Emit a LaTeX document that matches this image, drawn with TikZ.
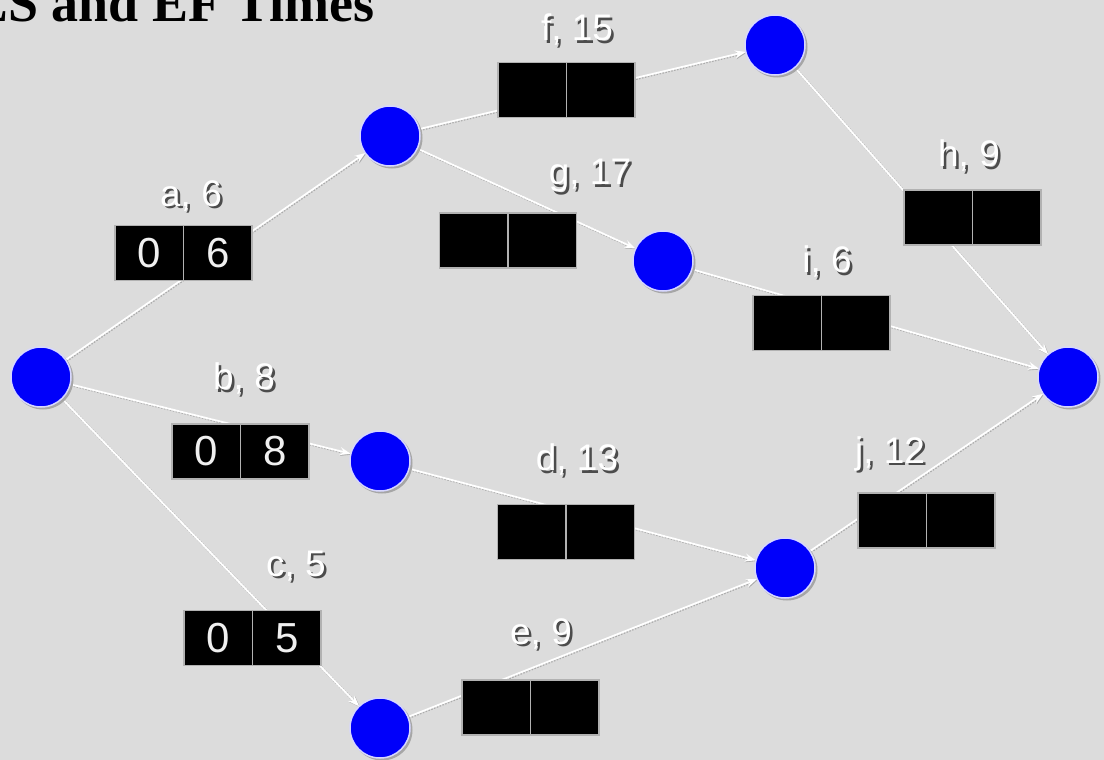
\documentclass[tikz,border=0pt]{standalone}
\usepackage{fontspec}
\setmainfont{Liberation Serif}
\newfontfamily\arial{Liberation Sans}
\usetikzlibrary{arrows.meta}
\definecolor{bg}{RGB}{220,220,220}
\definecolor{nodeblue}{RGB}{0,0,250}
\definecolor{rim}{RGB}{215,215,255}
\tikzset{
  ev/.style={circle,fill=nodeblue,draw=rim,line width=1.5bp,minimum size=60bp,inner sep=0pt,outer sep=0pt},
  evshadow/.style={circle,fill=gray!70,minimum size=61bp,inner sep=0pt},
  edge/.style={draw=white,line width=1.8bp,-{Stealth[length=11bp,width=8bp]},
    preaction={draw=gray!65,line width=2.4bp,dash pattern=on 1.5bp off 1.5bp,transform canvas={shift={(0.8bp,-0.8bp)}}}},
  cell/.style={rectangle,fill=black,draw=gray!60,line width=1.4bp,minimum width=68.5bp,minimum height=55bp,inner sep=0pt,
    font=\arial\fontsize{42bp}{44bp}\selectfont,text=gray!12},
  lbl/.style={font=\arial\fontsize{37bp}{40bp}\selectfont,text=white,inner sep=0pt},
}
\newcommand{\shadowtext}[1]{\rlap{\hspace{2.5bp}\raisebox{-2.5bp}{\color{gray!60!black}#1}}#1}
\newcommand{\actbox}[8]{%
  \node[cell] (#1L) at ({#2-34.25},#3) {#4};
  \node[cell] (#1R) at ({#2+34.25},#3) {#5};
  \node[lbl] (#1lbl) at (#7,#8) {\shadowtext{#6}};
}
\begin{document}
\begin{tikzpicture}[x=1bp,y=-1bp]
\fill[bg] (0,0) rectangle (1104,760);
\useasboundingbox (0,0) rectangle (1104,760);
% title
\node[anchor=base east,inner sep=0pt,font=\bfseries\fontsize{54bp}{56bp}\selectfont] (title) at (375,22) {ES and EF Times};
% event nodes
\coordinate (sC) at (41,377);
\coordinate (n1C) at (390,136);
\coordinate (n2C) at (380,461);
\coordinate (n3C) at (380,728);
\coordinate (n4C) at (775,45);
\coordinate (n5C) at (663,261);
\coordinate (n6C) at (785,568);
\coordinate (tC) at (1068,377);
\foreach \n in {s,n1,n2,n3,n4,n5,n6,t}{
  \node[ev,draw=none,fill=none] (\n) at (\n C) {};
}
% edges
\draw[edge] (s) -- (n1);
\draw[edge] (s) -- (n2);
\draw[edge] (s) -- (n3);
\draw[edge] (n1) -- (n4);
\draw[edge] (n1) -- (n5);
\draw[edge] (n4) -- (t);
\draw[edge] (n5) -- (t);
\draw[edge] (n2) -- (n6);
\draw[edge] (n3) -- (n6);
\draw[edge] (n6) -- (t);
% activity boxes
\actbox{a}{183.5}{253}{0}{6}{a, 6}{191}{197}
\actbox{b}{240.5}{451.5}{0}{8}{b, 8}{244}{380}
\actbox{c}{252.5}{638}{0}{5}{c, 5}{296}{567}
\actbox{f}{566.5}{90}{}{}{f, 15}{577}{31}
\actbox{g}{508}{240.5}{}{}{g, 17}{590}{177}
\actbox{h}{972.5}{217.5}{}{}{h, 9}{969}{157}
\actbox{i}{821.5}{323}{}{}{i, 6}{827}{263}
\actbox{d}{566}{532}{}{}{d, 13}{577}{461}
\actbox{e}{530.5}{707.5}{}{}{e, 9}{541}{635}
\actbox{j}{926.5}{520.5}{}{}{j, 12}{890}{455}
% circles
\foreach \n in {s,n1,n2,n3,n4,n5,n6,t}{
  \node[evshadow] at ([shift={(2,2)}]\n C) {};
  \node[ev] at (\n C) {};
}
\end{tikzpicture}
\end{document}
